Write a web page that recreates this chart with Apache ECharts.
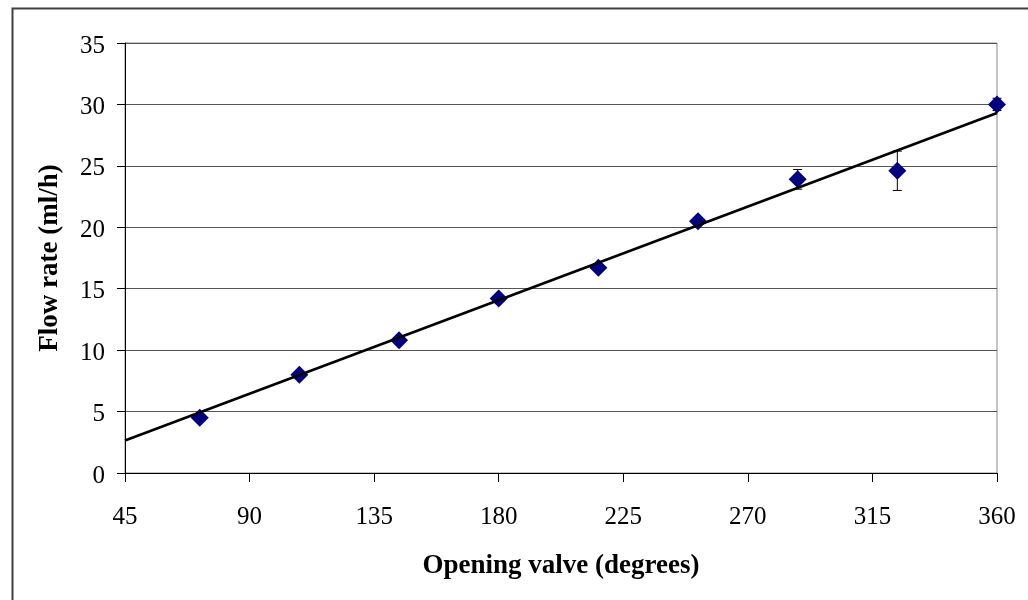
<!DOCTYPE html>
<html>
<head>
<meta charset="utf-8">
<script src="https://cdn.jsdelivr.net/npm/echarts@6/dist/echarts.min.js"></script>
<style>html,body{margin:0;padding:0;background:#fff;}#c{width:1028px;height:600px;}</style>
</head>
<body>
<div id="c"></div>
<script>
// Data
const openingValve = [72, 108, 144, 180, 216, 252, 288, 324, 360];
const flowRate = [4.5, 8.0, 10.8, 14.2, 16.7, 20.5, 23.9, 24.6, 30.0];
const flowError = [0.2, 0.2, 0.2, 0.2, 0.3, 0.3, 0.8, 1.6, 0.5];
const trendX = [45, 360];
const trendY = [2.65, 29.3];
const xTicks = [45, 90, 135, 180, 225, 270, 315, 360];
const yTicks = [0, 5, 10, 15, 20, 25, 30, 35];

const FONT = "'Liberation Serif', 'Times New Roman', serif";
const points = openingValve.map((x, i) => [x, flowRate[i]]);
const errData = openingValve.map((x, i) => [x, flowRate[i] - flowError[i], flowRate[i] + flowError[i]]);
const trendData = trendX.map((x, i) => [x, trendY[i]]);

const chart = echarts.init(document.getElementById('c'), null, {renderer: 'canvas'});
chart.setOption({
  backgroundColor: '#fff',
  animation: false,
  graphic: [{
    type: 'rect', left: 10, top: 6, silent: true, z: -10,
    shape: {x: 0, y: 0, width: 1100, height: 700},
    style: {fill: 'none', stroke: '#404040', lineWidth: 2}
  }],
  grid: {left: 125, right: 31, top: 43, bottom: 127, show: true, borderColor: '#888', borderWidth: 1, backgroundColor: 'transparent'},
  xAxis: {
    type: 'value', min: xTicks[0], max: xTicks[xTicks.length - 1], interval: 45,
    name: 'Opening valve (degrees)', nameLocation: 'middle', nameGap: 80,
    nameTextStyle: {fontFamily: FONT, fontSize: 27, fontWeight: 'bold', color: '#000'},
    axisLine: {show: true, onZero: false, lineStyle: {color: '#000', width: 1}},
    axisTick: {show: true, inside: false, length: 9, lineStyle: {color: '#000'}},
    axisLabel: {fontFamily: FONT, fontSize: 25, color: '#000', margin: 32},
    splitLine: {show: false}
  },
  yAxis: {
    type: 'value', min: yTicks[0], max: yTicks[yTicks.length - 1], interval: 5,
    name: 'Flow rate (ml/h)', nameLocation: 'middle', nameGap: 61, nameRotate: 90,
    nameTextStyle: {fontFamily: FONT, fontSize: 27, fontWeight: 'bold', color: '#000'},
    axisLine: {show: true, onZero: false, lineStyle: {color: '#000', width: 1}},
    axisTick: {show: true, inside: false, length: 8, lineStyle: {color: '#000'}},
    axisLabel: {fontFamily: FONT, fontSize: 25, color: '#000', margin: 20, verticalAlign: 'top', lineHeight: 6},
    splitLine: {show: true, lineStyle: {color: '#555', width: 1}}
  },
  series: [
    {
      type: 'custom', name: 'error', z: 2,
      data: errData,
      renderItem: function (params, api) {
        const x = api.value(0);
        const lo = api.coord([x, api.value(1)]);
        const hi = api.coord([x, api.value(2)]);
        const hw = 4.5;
        const st = {stroke: '#000', lineWidth: 1};
        return {
          type: 'group',
          children: [
            {type: 'line', shape: {x1: lo[0], y1: lo[1], x2: hi[0], y2: hi[1]}, style: st},
            {type: 'line', shape: {x1: lo[0] - hw, y1: lo[1], x2: lo[0] + hw, y2: lo[1]}, style: st},
            {type: 'line', shape: {x1: hi[0] - hw, y1: hi[1], x2: hi[0] + hw, y2: hi[1]}, style: st}
          ]
        };
      }
    },
    {
      type: 'scatter', name: 'Flow rate', z: 3,
      data: points, symbol: 'diamond', symbolSize: 18,
      itemStyle: {color: '#000080', opacity: 1}
    },
    {
      type: 'line', name: 'trend', z: 4,
      data: trendData, symbol: 'none',
      lineStyle: {color: '#000', width: 2.6}
    }
  ]
});
</script>
</body>
</html>
